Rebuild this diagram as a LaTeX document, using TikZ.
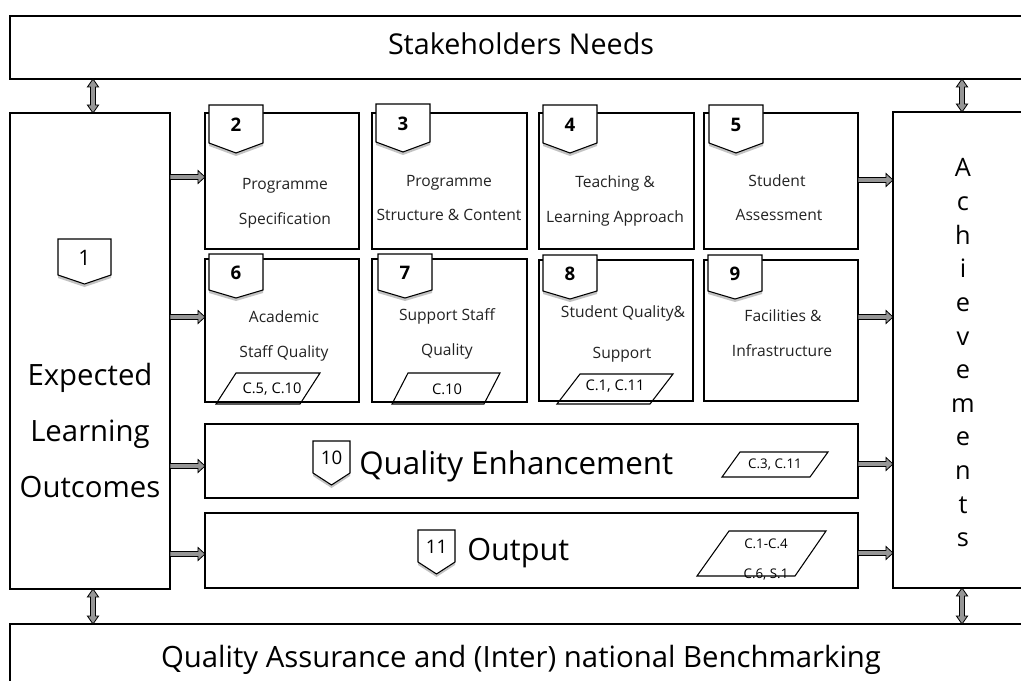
\documentclass[tikz,border=0pt]{standalone}
\usepackage{fontspec}
\setmainfont{Open Sans}
\usetikzlibrary{calc}
\definecolor{arrowgray}{RGB}{150,150,150}
\definecolor{shadowgray}{RGB}{195,195,195}
\definecolor{txt}{RGB}{35,35,35}
\tikzset{
  boxst/.style={draw=black, line width=1.1pt, fill=white, inner sep=0pt, outer sep=0pt},
  bigbox/.style={draw=black, line width=1.3pt, fill=white, inner sep=0pt, outer sep=0pt},
  badgest/.style={draw=black, line width=0.8pt, fill=white},
  arrowst/.style={draw=black, line width=0.6pt, fill=arrowgray},
  parast/.style={draw=black, line width=0.8pt},
  smalltxt/.style={font=\fontsize{11.7}{14}\selectfont, text=txt, anchor=base, inner sep=0pt},
  numbold/.style={font=\bfseries\fontsize{14}{16}\selectfont, inner sep=0pt},
  numreg/.style={font=\fontsize{16}{18}\selectfont, inner sep=0pt},
  numbig/.style={font=\fontsize{14}{16}\selectfont, inner sep=0pt},
  bigtxt/.style={font=\fontsize{22}{26}\selectfont, anchor=base, inner sep=0pt},
  elotxt/.style={font=\fontsize{22}{26}\selectfont, anchor=base, inner sep=0pt},
  achtxt/.style={font=\fontsize{19}{22}\selectfont, anchor=base, inner sep=0pt},
  ctxt/.style={font=\fontsize{11}{13}\selectfont, anchor=base, inner sep=0pt},
  ctxtsmall/.style={font=\fontsize{10}{12}\selectfont, anchor=base, inner sep=0pt},
}
\newcommand\mybox[6][boxst]{%
  \pgfmathsetmacro\bw{(#5-#3)*0.75}\pgfmathsetmacro\bh{(#6-#4)*0.75}%
  \node[#1,minimum width=\bw pt,minimum height=\bh pt] (#2) at ({(#3+#5)/2},{(#4+#6)/2}) {};}
\newcommand\badge[8]{%
  \fill[shadowgray] (#1,#2+3) -- ++(#3,0) -- ++(0,#4) -- ++(-#3/2,#5) -- ++(-#3/2,-#5) -- cycle;
  \filldraw[badgest] (#1,#2) -- ++(#3,0) -- ++(0,#4) -- ++(-#3/2,#5) -- ++(-#3/2,-#5) -- cycle;
  \node[#8] (#6) at (#1+#3/2,#2+#4/2+1) {#7};}
\newcommand\harrow[2]{%
  \filldraw[arrowst] let \p1=#1, \p2=#2 in
  (\x1,\y1+1.9pt) -- (\x2-5.3pt,\y1+1.9pt) -- (\x2-5.3pt,\y1+4.9pt) -- (\x2,\y1)
  -- (\x2-5.3pt,\y1-4.9pt) -- (\x2-5.3pt,\y1-1.9pt) -- (\x1,\y1-1.9pt) -- cycle;}
\newcommand\varrow[2]{%
  \filldraw[arrowst] let \p1=#1, \p2=#2 in
  (\x1,\y1) -- (\x1+4.2pt,\y1-6pt) -- (\x1+1.9pt,\y1-6pt) -- (\x1+1.9pt,\y2+6pt)
  -- (\x1+4.2pt,\y2+6pt) -- (\x1,\y2) -- (\x1-4.2pt,\y2+6pt) -- (\x1-1.9pt,\y2+6pt)
  -- (\x1-1.9pt,\y1-6pt) -- (\x1-4.2pt,\y1-6pt) -- cycle;}
\begin{document}
\begin{tikzpicture}[x=0.75pt,y=-0.75pt]
\useasboundingbox (0,0) rectangle (1021,681);
\clip (0,0) rectangle (1021,681);
\fill[white] (0,0) rectangle (1021,681);

% big boxes
\mybox[bigbox]{T}{10}{16}{1040}{79}
\mybox[bigbox]{B}{10}{624}{1040}{700}
\mybox[bigbox]{L}{10}{113}{170}{589}
\mybox[bigbox]{R}{893}{112}{1040}{588}

% middle boxes
\mybox{b2}{205}{113}{359}{249}
\mybox{b3}{372}{113}{527}{249}
\mybox{b4}{539}{113}{694}{249}
\mybox{b5}{704}{113}{858}{249}
\mybox{b6}{205}{259}{359}{402}
\mybox{b7}{372}{259}{527}{402}
\mybox{b8}{539}{260}{693}{401}
\mybox{b9}{704}{260}{858}{401}
\mybox{b10}{205}{424}{858}{498}
\mybox{b11}{205}{513}{858}{588}

% badges
\badge{58}{239}{53}{36}{9}{n1}{1}{numreg}
\badge{209}{105}{54}{38}{10}{n2}{2}{numbold}
\badge{376}{104}{54}{38}{10}{n3}{3}{numbold}
\badge{543}{105}{54}{38}{10}{n4}{4}{numbold}
\badge{709}{105}{54}{38}{10}{n5}{5}{numbold}
\badge{209}{254}{54}{36}{8}{n6}{6}{numbold}
\badge{378}{254}{54}{36}{8}{n7}{7}{numbold}
\badge{543}{255}{54}{36}{8}{n8}{8}{numbold}
\badge{708}{255}{54}{36}{8}{n9}{9}{numbold}
\badge{313}{441}{37}{32}{12}{n10}{10}{numbig}
\badge{418}{530}{37}{32}{12}{n11}{11}{numbig}

% big texts
\node[bigtxt, font=\fontsize{21.5}{24}\selectfont] (tT) at (521,55) {Stakeholders Needs};
\node[bigtxt] (tB) at (521,667) {Quality Assurance and (Inter) national Benchmarking};
\node[bigtxt, font=\fontsize{23.5}{26}\selectfont, anchor=base west] (t10) at (359,474) {Quality Enhancement};
\node[bigtxt, font=\fontsize{23}{26}\selectfont, anchor=base west] (t11) at (467,560) {Output};
\node[elotxt] (e1) at (90,385) {Expected};
\node[elotxt] (e2) at (90,441) {Learning};
\node[elotxt] (e3) at (90,497) {Outcomes};
\foreach \ch [count=\i from 0] in {A,c,h,i,e,v,e,m,e,n,t,s}
  \node[achtxt] (ach\i) at (963,{177+33.6*\i}) {\ch};

% small box texts
\node[smalltxt] (t2a) at (285,190) {Programme};
\node[smalltxt] (t2b) at (285,224) {Specification};
\node[smalltxt] (t3a) at (449,186) {Programme};
\node[smalltxt] (t3b) at (449,220) {Structure \& Content};
\node[smalltxt] (t4a) at (615,188) {Teaching \&};
\node[smalltxt] (t4b) at (615,223) {Learning Approach};
\node[smalltxt] (t5a) at (777,186) {Student};
\node[smalltxt] (t5b) at (779,220) {Assessment};
\node[smalltxt] (t6a) at (284,322) {Academic};
\node[smalltxt] (t6b) at (284,357) {Staff Quality};
\node[smalltxt] (t7a) at (447,320) {Support Staff};
\node[smalltxt] (t7b) at (447,355) {Quality};
\node[smalltxt] (t8a) at (623,317) {Student Quality\&};
\node[smalltxt] (t8b) at (622,358) {Support};
\node[smalltxt] (t9a) at (783,321) {Facilities \&};
\node[smalltxt] (t9b) at (782,356) {Infrastructure};

% parallelograms
\draw[parast] (236,373) -- (320,373) -- (300,404) -- (216,404) -- cycle;
\node[ctxt] (c6) at (272,393) {C.5, C.10};
\draw[parast] (408,373) -- (500,373) -- (484,404) -- (392,404) -- cycle;
\node[ctxt] (c7) at (447,394) {C.10};
\draw[parast] (580,374) -- (673,374) -- (650,404) -- (557,404) -- cycle;
\node[ctxt] (c8) at (615,390) {C.1, C.11};
\draw[parast] (740,452) -- (828,452) -- (810,477) -- (722,477) -- cycle;
\node[ctxtsmall] (c10) at (775,468) {C.3, C.11};
\draw[parast] (729,531) -- (826,531) -- (795,576) -- (697,576) -- cycle;
\node[ctxtsmall] (c11a) at (766,548) {C.1-C.4};
\node[ctxtsmall] (c11b) at (766,578) {C.6, S.1};

% arrows left
\harrow{(L.east |- 0,177)}{(b2.west |- 0,177)}
\harrow{(L.east |- 0,317)}{(b6.west |- 0,317)}
\harrow{(L.east |- 0,466)}{(b10.west |- 0,466)}
\harrow{(L.east |- 0,554)}{(b11.west |- 0,554)}
% arrows right
\harrow{(b5.east |- 0,180)}{(R.west |- 0,180)}
\harrow{(b9.east |- 0,317)}{(R.west |- 0,317)}
\harrow{(b10.east |- 0,464)}{(R.west |- 0,464)}
\harrow{(b11.east |- 0,553)}{(R.west |- 0,553)}
% vertical double arrows
\varrow{(T.south -| 93,0)}{(L.north -| 93,0)}
\varrow{(T.south -| 962,0)}{(R.north -| 962,0)}
\varrow{(L.south -| 93,0)}{(B.north -| 93,0)}
\varrow{(R.south -| 962,0)}{(B.north -| 962,0)}
\end{tikzpicture}
\end{document}
